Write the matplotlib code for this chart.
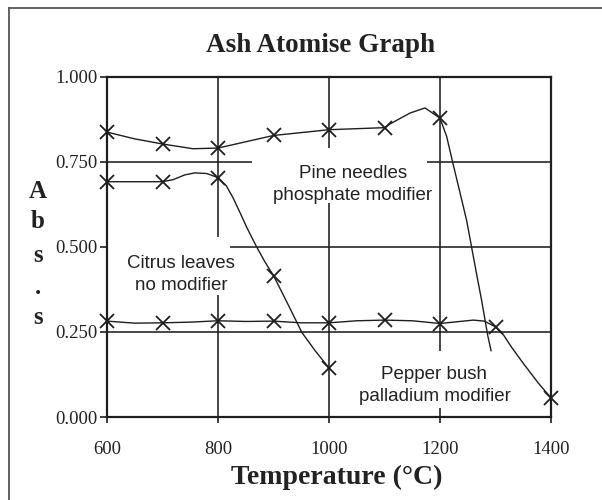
import matplotlib
matplotlib.use("Agg")
import matplotlib.pyplot as plt
from matplotlib.lines import Line2D
from matplotlib.patches import Rectangle

# ---- data ----
pine_temp = [600, 700, 800, 900, 1000, 1100, 1200]
pine_abs = [0.838, 0.803, 0.791, 0.828, 0.845, 0.851, 0.879]
pine_curve_t = [600, 650, 700, 755, 800, 900, 1000, 1100, 1110, 1146, 1173, 1200,
                1212, 1223, 1236, 1248, 1257, 1266, 1275, 1286, 1292]
pine_curve_a = [0.838, 0.818, 0.803, 0.789, 0.791, 0.828, 0.845, 0.851, 0.862, 0.894, 0.909, 0.879,
                0.825, 0.748, 0.660, 0.578, 0.499, 0.420, 0.343, 0.240, 0.195]

citrus_temp = [600, 700, 800, 900, 1000]
citrus_abs = [0.692, 0.692, 0.704, 0.416, 0.144]
citrus_curve_t = [600, 700, 719, 740, 758, 780, 800, 815, 827, 840, 852, 870, 885, 900,
                  925, 951, 975, 1000]
citrus_curve_a = [0.692, 0.692, 0.698, 0.712, 0.718, 0.716, 0.704, 0.680, 0.645, 0.600, 0.557, 0.499,
                  0.455, 0.416, 0.335, 0.249, 0.195, 0.144]

pepper_temp = [600, 700, 800, 900, 1000, 1100, 1200, 1300, 1400]
pepper_abs = [0.282, 0.277, 0.283, 0.282, 0.277, 0.285, 0.275, 0.265, 0.056]
pepper_curve_t = [600, 650, 700, 750, 800, 850, 900, 950, 1000, 1050, 1100, 1150, 1200, 1230,
                  1260, 1280, 1300, 1315, 1329, 1350, 1377, 1400]
pepper_curve_a = [0.282, 0.276, 0.277, 0.279, 0.283, 0.281, 0.282, 0.277, 0.277, 0.283, 0.285, 0.283,
                  0.275, 0.280, 0.285, 0.282, 0.265, 0.240, 0.205, 0.158, 0.100, 0.056]

x_ticks = [600, 800, 1000, 1200, 1400]
y_ticks = [0.0, 0.25, 0.5, 0.75, 1.0]
y_ticklabels = ["0.000", "0.250", "0.500", "0.750", "1.000"]

labels = ["Pine needles\nphosphate modifier", "Citrus leaves\nno modifier",
          "Pepper bush\npalladium modifier"]
label_pos = [(1043, 0.685), (733, 0.418), (1190, 0.092)]
# white label boxes (x0, x1, y0, y1) in data units
label_boxes = [(861, 1177, 0.628, 0.792), (600, 822, 0.358, 0.528), (1045, 1335, 0.026, 0.195)]

ink = "#1e1e1e"
txtc = "#222222"
serif = ["Liberation Serif", "DejaVu Serif"]
sans = ["Liberation Sans", "DejaVu Sans"]

fig = plt.figure(figsize=(6.02, 5.0), dpi=100)
ax = fig.add_axes([107/602, 1-417/500, (551-107)/602, (417-77)/500])
ax.set_xlim(600, 1400)
ax.set_ylim(0, 1.0)

# grid lines
for gx in [800, 1000, 1200]:
    ax.axvline(gx, color=ink, lw=1.15, zorder=1)
for gy in [0.25, 0.5, 0.75]:
    ax.axhline(gy, color=ink, lw=1.15, zorder=1)

# white boxes behind the labels cut the grid
for (x0, x1, y0, y1) in label_boxes:
    ax.add_patch(Rectangle((x0, y0), x1 - x0, y1 - y0, fc="white", ec="none", zorder=2))

for txt, (lx, ly) in zip(labels, label_pos):
    ax.text(lx, ly, txt, ha="center", va="center", fontsize=13.5, family=sans,
            color=txtc, linespacing=1.38, zorder=3)

for ct, ca, mt, ma in [(pine_curve_t, pine_curve_a, pine_temp, pine_abs),
                       (citrus_curve_t, citrus_curve_a, citrus_temp, citrus_abs),
                       (pepper_curve_t, pepper_curve_a, pepper_temp, pepper_abs)]:
    ax.plot(ct, ca, color=ink, lw=1.0, zorder=4, solid_joinstyle="round")
    ax.plot(mt, ma, linestyle="none", marker="x", ms=9.5, mew=1.3, color=ink,
            zorder=5, clip_on=False)

for s in ax.spines.values():
    s.set_linewidth(1.6)
    s.set_color(ink)
    s.set_zorder(6)

ax.set_xticks(x_ticks)
ax.set_xticklabels([str(v) for v in x_ticks], family=serif, fontsize=13.5)
ax.set_yticks(y_ticks)
ax.set_yticklabels(y_ticklabels, family=serif, fontsize=13.5)
ax.tick_params(axis="x", direction="out", length=4, width=1.2, color=ink, pad=13,
               labelcolor=txtc)
ax.tick_params(axis="y", direction="out", length=5, width=1.2, color=ink, pad=1.5,
               labelcolor=txtc)

fig.text(320/602, 1-45/500, "Ash Atomise Graph", ha="center", va="center",
         family=serif, fontsize=19.5, fontweight="bold", color=txtc)
fig.text(337/602, 1-477/500, "Temperature (°C)", ha="center", va="center",
         family=serif, fontsize=20, fontweight="bold", color=txtc)
for ch, yy in zip(["A", "b", "s", ".", "s"], [192, 222, 255, 287, 317]):
    fig.text(38/602, 1-yy/500, ch, ha="center", va="center", family=serif,
             fontsize=18, fontweight="bold", color=txtc)

# outer frame (top and left edges visible)
fig.add_artist(Line2D([9/602, 9/602], [0, 1-8/500], transform=fig.transFigure,
                      color="#555555", lw=1.3))
fig.add_artist(Line2D([9/602, 1], [1-8/500, 1-8/500], transform=fig.transFigure,
                      color="#555555", lw=1.3))

fig.savefig("out.png", dpi=100)
